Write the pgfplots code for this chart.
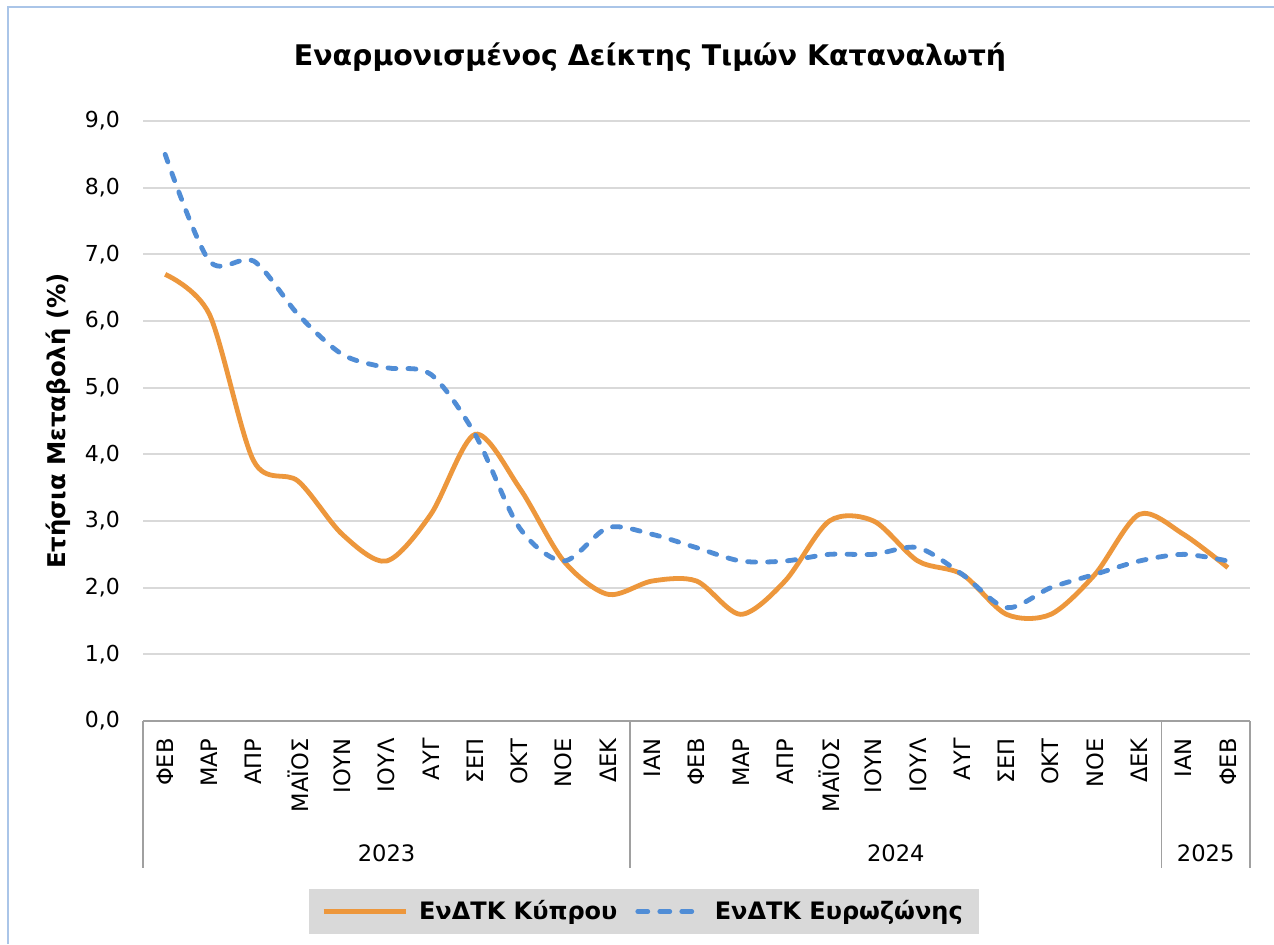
\documentclass[border=0pt]{standalone}
\usepackage{fontspec}
\setmainfont{DejaVu Sans}
\usepackage{pgfplots}
\pgfplotsset{compat=1.18}
\definecolor{cyorange}{RGB}{237,151,60}
\definecolor{ezblue}{RGB}{80,141,214}
\definecolor{gridgray}{RGB}{217,217,217}
\definecolor{axgray}{RGB}{160,160,160}
\definecolor{framebl}{RGB}{170,197,232}
\definecolor{legbg}{RGB}{217,217,217}
\pgfplotsset{
  orleg/.style={legend image code/.code={\draw[##1] (0pt,0pt) -- (41pt,0pt);}},
  blleg/.style={legend image code/.code={\draw[##1, dash pattern=on 5pt off 6pt] (1.2pt,0pt) -- (33pt,0pt);}},
}
\begin{document}
\begin{tikzpicture}
\useasboundingbox (0,0) rectangle (637pt,472pt);
\fill[white] (0,0) rectangle (637pt,472pt);
\draw[framebl, line width=1.2pt] (4pt,0) -- (4pt,468.5pt) -- (637pt,468.5pt);
\node[font=\bfseries\fontsize{14.2}{16}\selectfont] at (325pt,443.5pt) {Εναρμονισμένος Δείκτης Τιμών Καταναλωτή};
\begin{axis}[
  at={(71.5pt,111.5pt)}, anchor=south west,
  scale only axis, width=553.5pt, height=300pt,
  xmin=-0.5, xmax=24.5, ymin=0, ymax=9,
  clip=false,
  axis x line*=bottom, axis y line*=left,
  x axis line style={axgray, line width=0.8pt, -},
  y axis line style={draw=none},
  major tick length=0pt,
  ytick={0,1,...,9},
  xtick={0,1,...,24},
  xticklabels={ΦΕΒ,ΜΑΡ,ΑΠΡ,ΜΑΪΟΣ,ΙΟΥΝ,ΙΟΥΛ,ΑΥΓ,ΣΕΠ,ΟΚΤ,ΝΟΕ,ΔΕΚ,ΙΑΝ,ΦΕΒ,ΜΑΡ,ΑΠΡ,ΜΑΪΟΣ,ΙΟΥΝ,ΙΟΥΛ,ΑΥΓ,ΣΕΠ,ΟΚΤ,ΝΟΕ,ΔΕΚ,ΙΑΝ,ΦΕΒ},
  xticklabel style={rotate=90, anchor=east, font=\fontsize{11.3}{12}\selectfont, inner sep=0pt},
  xticklabel shift=8.5pt,
  yticklabel style={font=\fontsize{11}{12}\selectfont, /pgf/number format/.cd, fixed, fixed zerofill, precision=1, use comma, assume math mode=true},
  yticklabel shift=8pt,
  ymajorgrids, grid style={gridgray, line width=1pt},
  ylabel={Ετήσια Μεταβολή (\%)},
  ylabel style={font=\bfseries\fontsize{12.2}{13}\selectfont, at={(axis description cs:0,0.5)}, yshift=42.5pt, anchor=center},
  legend style={at={(axis description cs:0.4526,-0.3175)}, anchor=center, fill=legbg, draw=none,
    font=\bfseries\fontsize{12}{14}\selectfont, inner xsep=6pt, inner ysep=3.8pt,
    /tikz/every even column/.append style={column sep=7pt},
    /tikz/every odd column/.append style={column sep=3.5pt}},
  legend columns=2,
]
\addplot[cyorange, line width=2.4pt, smooth, tension=0.5, orleg] coordinates {
(0,6.7) (1,6.1) (2,3.9) (3,3.6) (4,2.8) (5,2.4) (6,3.1) (7,4.3) (8,3.5) (9,2.4) (10,1.9)
(11,2.1) (12,2.1) (13,1.6) (14,2.1) (15,3.0) (16,3.0) (17,2.4) (18,2.2) (19,1.6) (20,1.6) (21,2.2) (22,3.1)
(23,2.8) (24,2.3)};
\addlegendentry{ΕνΔΤΚ Κύπρου}
\addplot[ezblue, line width=2.4pt, smooth, tension=0.5, line cap=round, dash pattern=on 4pt off 6pt, blleg] coordinates {
(0,8.5) (1,6.9) (2,6.9) (3,6.1) (4,5.5) (5,5.3) (6,5.2) (7,4.3) (8,2.9) (9,2.4) (10,2.9)
(11,2.8) (12,2.6) (13,2.4) (14,2.4) (15,2.5) (16,2.5) (17,2.6) (18,2.2) (19,1.7) (20,2.0) (21,2.2) (22,2.4)
(23,2.5) (24,2.4)};
\addlegendentry{ΕνΔΤΚ Ευρωζώνης}
\foreach \gx in {-0.5,10.5,22.5,24.5} {
  \edef\tmp{\noexpand\draw[axgray, line width=0.8pt] (axis cs:\gx,0) -- ([yshift=-73.5pt]axis cs:\gx,0);}
  \tmp
}
\node[font=\fontsize{11.3}{12}\selectfont] at ([yshift=-66pt]axis cs:5,0) {2023};
\node[font=\fontsize{11.3}{12}\selectfont] at ([yshift=-66pt]axis cs:16.5,0) {2024};
\node[font=\fontsize{11.3}{12}\selectfont] at ([yshift=-66pt]axis cs:23.5,0) {2025};
\end{axis}
\end{tikzpicture}
\end{document}
